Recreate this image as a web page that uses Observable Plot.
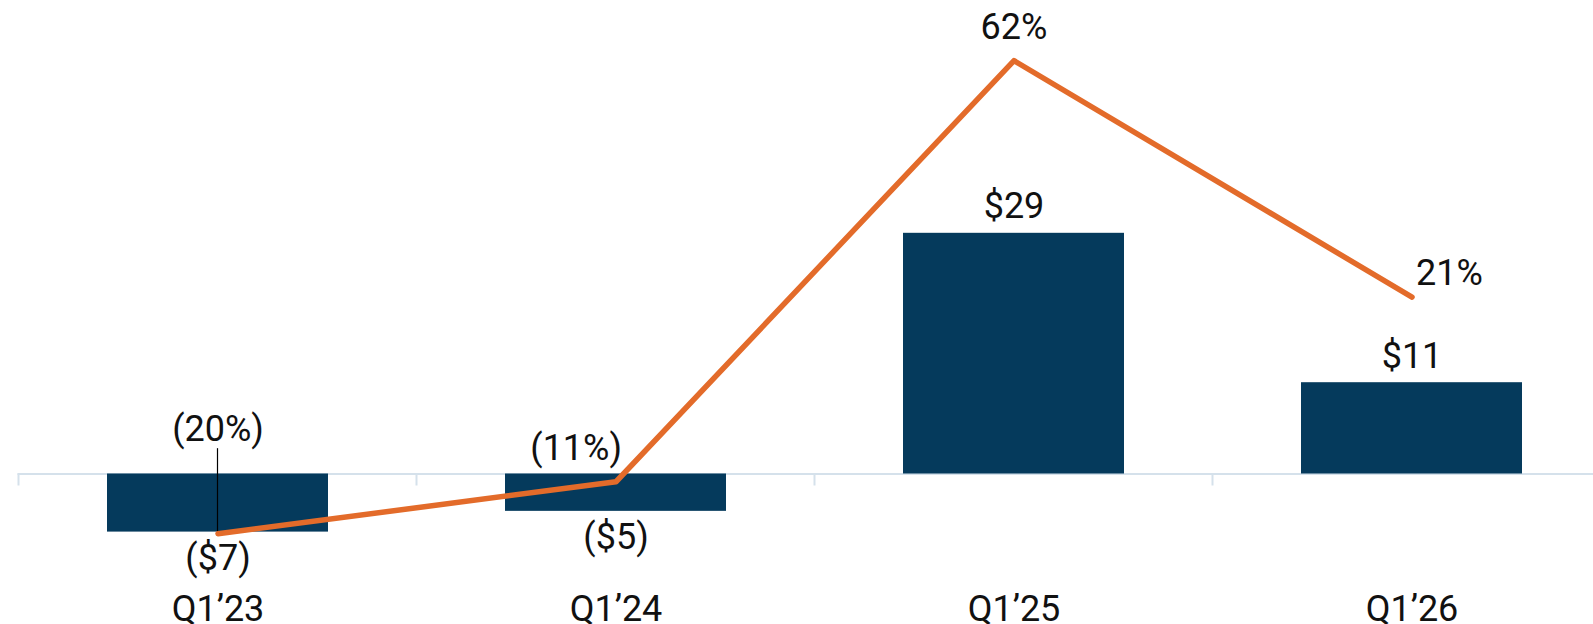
<!DOCTYPE html>
<html>
<head>
<meta charset="utf-8">
<script src="https://cdn.jsdelivr.net/npm/d3@7"></script>
<script src="https://cdn.jsdelivr.net/npm/@observablehq/plot@0.6"></script>
<style>
  html, body { margin: 0; padding: 0; background: #fff; overflow: hidden; }
  #chart { width: 1593px; height: 624px; }
</style>
</head>
<body>
<div id="chart"></div>
<script>
// ---- data ----
const quarters = ["Q1’23", "Q1’24", "Q1’25", "Q1’26"];
const amounts = [-7, -4.5, 29, 11];            // bar values ($)
const amountLabels = ["($7)", "($5)", "$29", "$11"];
const margins = [-20, -11, 62, 21];            // line values (%)
const marginLabels = ["(20%)", "(11%)", "62%", "21%"];

// secondary axis mapping (percent -> bar units)
const pctZero = 6.71, pctScale = 0.695;
const toBar = p => pctZero + pctScale * p;

const rows = quarters.map((q, i) => ({
  q, amount: amounts[i], amountLabel: amountLabels[i],
  pct: margins[i], pctLabel: marginLabels[i], pctY: toBar(margins[i])
}));

const navy = "#053a5c", orange = "#e36b2a", axisGray = "#d5e1eb";
const font = "Roboto, 'Noto Sans', sans-serif";
const fs = 36;

function bandGap(x) {
  const bw = typeof x.bandwidth === "function" ? x.bandwidth() : x.bandwidth;
  const step = x(quarters[1]) - x(quarters[0]);
  return {bw, step};
}

// boundary ticks between categories
function boundaryTicks(index, scales) {
  const x = scales.x, y = scales.y;
  const {bw, step} = bandGap(x);
  const g = d3.create("svg:g");
  for (const q of quarters) {
    const bx = x(q) - (step - bw) / 2;
    g.append("line")
      .attr("x1", bx).attr("x2", bx)
      .attr("y1", y(0)).attr("y2", y(0) + 12)
      .attr("stroke", axisGray).attr("stroke-width", 2);
  }
  return g.node();
}

// leader line from the first margin point up to its label
function leader(index, scales) {
  const x = scales.x, y = scales.y;
  const {bw} = bandGap(x);
  const r = rows[0];
  const cx = x(r.q) + bw / 2, cy = y(r.pctY);
  const g = d3.create("svg:g");
  g.append("line")
    .attr("x1", cx).attr("x2", cx)
    .attr("y1", cy).attr("y2", cy - 85)
    .attr("stroke", "#000").attr("stroke-width", 1.2);
  return g.node();
}

const textBase = {x: "q", fontSize: fs, fill: "#111", fontFamily: font};

const plot = Plot.plot({
  width: 1593,
  height: 624,
  marginTop: 0,
  marginLeft: 17.5,
  marginRight: 0,
  marginBottom: 150.5,
  style: {fontFamily: font, fontSize: fs + "px", color: "#111", background: "#fff", overflow: "visible"},
  x: {domain: quarters, range: [17.5, 1611.5], paddingInner: 0.445, paddingOuter: 0.2225, axis: null},
  y: {domain: [0, 57.05], axis: null},
  marks: [
    Plot.ruleY([0], {stroke: axisGray, strokeWidth: 2}),
    boundaryTicks,
    Plot.barY(rows, {x: "q", y: "amount", fill: navy}),
    leader,
    Plot.line(rows, {x: "q", y: "pctY", stroke: orange, strokeWidth: 5.5, strokeLinecap: "round", strokeLinejoin: "round"}),
    // bar labels
    Plot.text(rows.filter(d => d.amount >= 0), {...textBase, y: "amount", text: "amountLabel", lineAnchor: "bottom", dy: -15}),
    Plot.text(rows.filter(d => d.amount < 0), {...textBase, y: "amount", text: "amountLabel", lineAnchor: "top", dy: 12}),
    // margin labels
    Plot.text([rows[0]], {...textBase, y: "pctY", text: "pctLabel", lineAnchor: "bottom", dy: -93}),
    Plot.text([rows[1]], {...textBase, y: "pctY", text: "pctLabel", lineAnchor: "bottom", textAnchor: "end", dx: 6, dy: -22}),
    Plot.text([rows[2]], {...textBase, y: "pctY", text: "pctLabel", lineAnchor: "bottom", dy: -22}),
    Plot.text([rows[3]], {...textBase, y: "pctY", text: "pctLabel", lineAnchor: "bottom", textAnchor: "start", dx: 4, dy: -12}),
    Plot.axisX({anchor: "bottom", tickSize: 0, tickPadding: 121, fontSize: fs, fill: "#111", label: null})
  ]
});

document.getElementById("chart").appendChild(plot);
</script>
</body>
</html>
